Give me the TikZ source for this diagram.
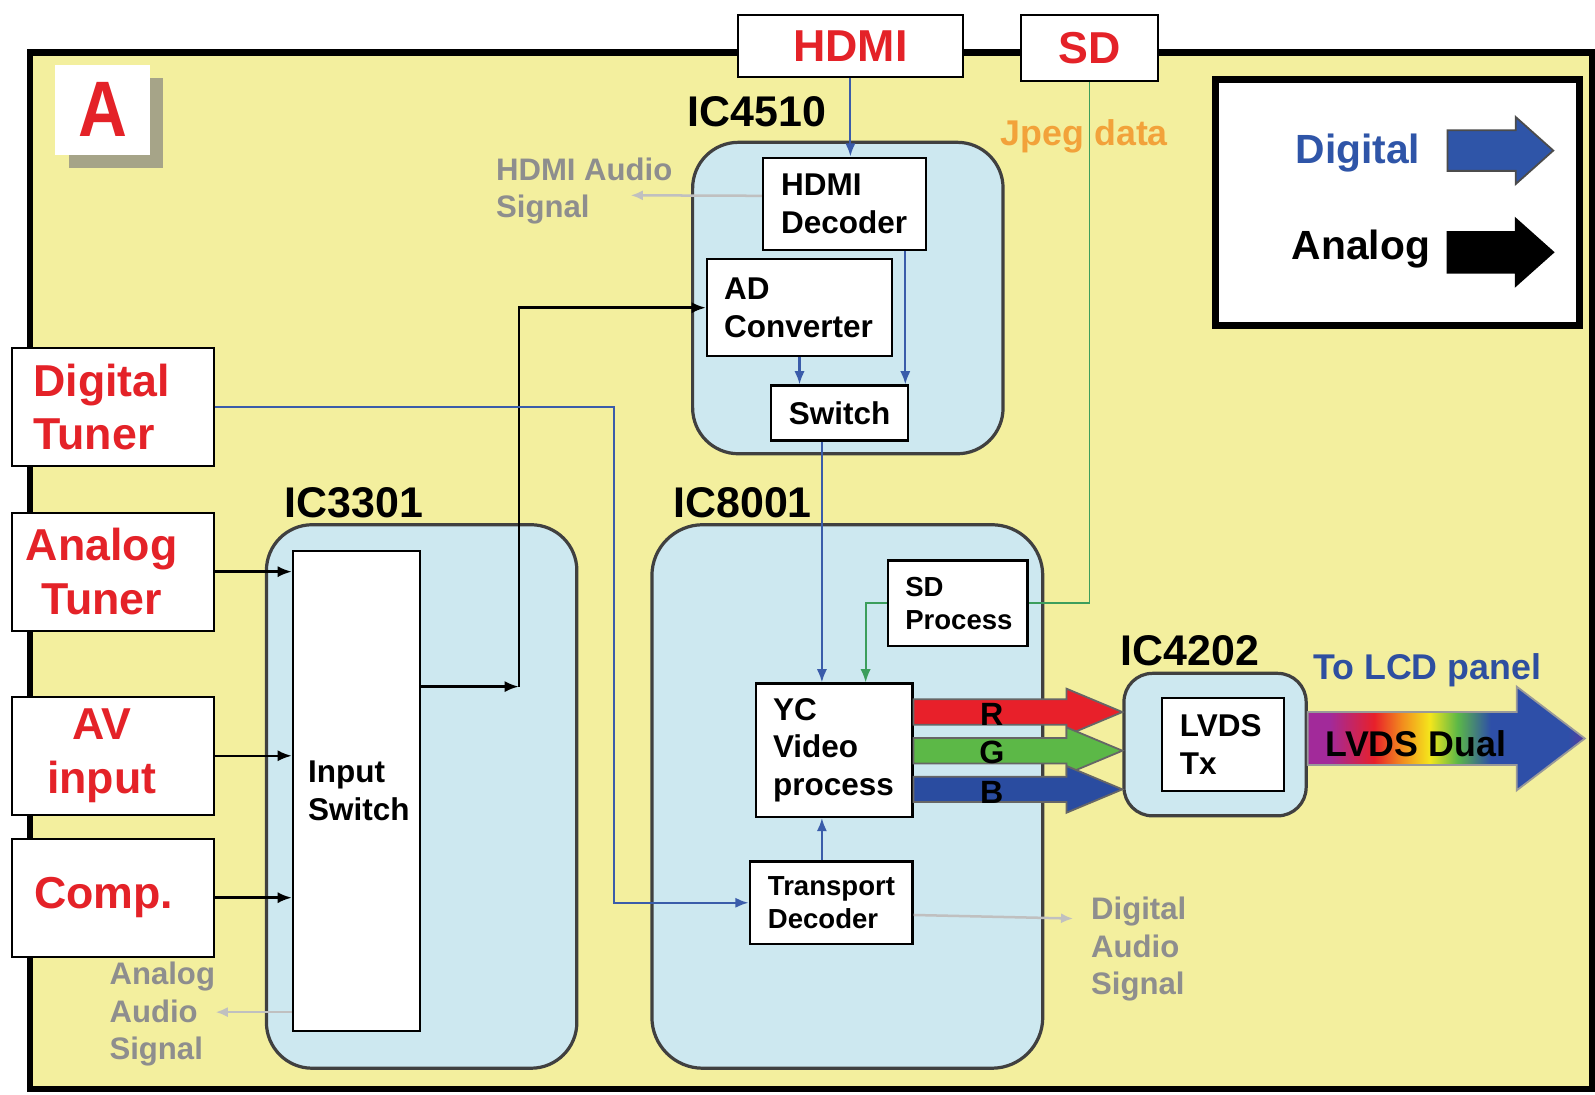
\documentclass[tikz,border=0pt]{standalone}
\usepackage{fontspec}
\setmainfont{Liberation Sans}
\usepackage{tikz}
\usetikzlibrary{arrows.meta,positioning,calc,shadows}
\definecolor{boardyellow}{HTML}{F3EF9E}
\definecolor{chipblue}{HTML}{CDE8F0}
\definecolor{inred}{HTML}{E42228}
\definecolor{digblue}{HTML}{3A5CAA}
\definecolor{legendblue}{HTML}{2F55A8}
\definecolor{lcdblue}{HTML}{2E4FA0}
\definecolor{jpegorange}{HTML}{F2A23A}
\definecolor{jpeggreen}{HTML}{3C9E5C}
\definecolor{audiogray}{HTML}{8E8E8E}
\definecolor{audioline}{HTML}{C0C0C0}
\definecolor{shadowgray}{HTML}{A6A488}
\definecolor{rgbred}{HTML}{E8202A}
\definecolor{rgbgreen}{HTML}{5CB847}
\definecolor{rgbblue}{HTML}{2A4CA0}
\definecolor{lvdsmag}{HTML}{A22A9A}
\definecolor{lvdsorange}{HTML}{F28C1E}
\definecolor{lvdsyellow}{HTML}{F4E61C}
\definecolor{lvdsblue}{HTML}{2E4FA8}
\definecolor{lvdsviolet}{HTML}{5A3C9E}
\pgfdeclarehorizontalshading{lvdsrainbow}{100bp}{color(0bp)=(lvdsmag); color(25bp)=(lvdsmag); color(29bp)=(lvdsmag); color(37bp)=(rgbred); color(42bp)=(lvdsorange); color(47bp)=(lvdsyellow); color(52bp)=(rgbgreen); color(58bp)=(lvdsblue); color(72bp)=(lvdsblue); color(75bp)=(lvdsviolet); color(100bp)=(lvdsviolet)}
% fat arrow: style, start, tip, half shaft, half head, head length
\newcommand{\fatarrow}[6]{%
  \draw[#1] ($(#2)+(0,-#4)$) -- ($(#3)+(-#6,-#4)$) -- ($(#3)+(-#6,-#5)$) -- (#3)
    -- ($(#3)+(-#6,#5)$) -- ($(#3)+(-#6,#4)$) -- ($(#2)+(0,#4)$) -- cycle;}

\begin{document}
\begin{tikzpicture}[x=0.01cm, y=-0.01cm,
        tunerbox/.style={draw, fill=white, line width=0.6pt, minimum width=1.98cm, minimum height=1.16cm, inner sep=0pt, align=center, text=inred, font=\fontsize{12.5}{15}\selectfont\bfseries},
        portbox/.style={draw, fill=white, line width=0.6pt, inner sep=0pt, text=inred, font=\fontsize{12.5}{15}\selectfont\bfseries},
        chipbox/.style={draw=black!75, fill=chipblue, line width=0.9pt, inner sep=0pt},
        chiplabel/.style={font=\fontsize{12}{14}\selectfont\bfseries},
        blockbox/.style={draw, fill=white, line width=0.6pt, inner sep=0pt, align=left, font=\fontsize{8.8}{10.6}\selectfont\bfseries},
        smallblock/.style={blockbox, font=\fontsize{7.7}{9.2}\selectfont\bfseries},
        audiotext/.style={anchor=west, inner sep=0pt, align=left, text=audiogray, font=\fontsize{8.7}{10.5}\selectfont\bfseries},
        rgblabel/.style={font=\fontsize{9}{10}\selectfont\bfseries},
        anaarrow/.style={-{Latex[length=1.4mm, width=1.1mm]}, line width=0.7pt},
        digarrow/.style={-{Latex[length=1.3mm, width=1mm]}, line width=0.6pt, digblue},
        jpegline/.style={line width=0.5pt, jpeggreen},
        audioarrow/.style={-{Latex[length=1.2mm, width=1mm]}, line width=0.7pt, audioline},
        fatshape/.style={draw=#1, line width=0.5pt},
    ]
    \useasboundingbox (0,0) rectangle (1568,1076);
    \fill[white] (0,0) rectangle (1568,1076);

    % === Board ===
    \node[draw, line width=1.8pt, fill=boardyellow, minimum width=15.35cm, minimum height=10.18cm, inner sep=0pt] (board) at (797.5,561) {};
    \node[fill=white, minimum width=0.93cm, minimum height=0.88cm, inner sep=0pt, copy shadow={shadow xshift=0.13cm, shadow yshift=-0.13cm, fill=shadowgray, draw=none}, text=inred, font=\fontsize{22}{22}\selectfont\bfseries] (abox) at (101,108) {\scalebox{0.86}[1]{A}};

    % === Inputs ===
    \node[portbox, minimum width=2.21cm, minimum height=0.61cm] (hdmi) at (836,45) {HDMI};
    \node[portbox, minimum width=1.34cm, minimum height=0.65cm] (sd) at (1071,47) {SD};
    \node[tunerbox, text width=1.56cm, align=left] (dtuner) at (111,400) {Digital\\Tuner};
    \node[tunerbox] (atuner) at (111,562) {\hspace*{-0.22cm}Analog\\\hspace*{-0.22cm}Tuner};
    \node[tunerbox] (avin) at (111,743) {\hspace*{-0.22cm}AV\\\hspace*{-0.22cm}input};
    \node[tunerbox] (comp) at (111,882.5) {\hspace*{-0.18cm}Comp.};

    % === Legend ===
    \node[draw, line width=2pt, fill=white, minimum width=3.58cm, minimum height=2.42cm, inner sep=0pt] (legend) at (1374,199) {};
    \node[font=\fontsize{11.4}{13}\selectfont\bfseries, text=legendblue] (lgdigital) at (1335,150) {Digital};
    \node[font=\fontsize{11.4}{13}\selectfont\bfseries] (lganalog) at (1338,245) {Analog};
    \fatarrow{fatshape=black!70, fill=legendblue}{1423,148}{1527,148}{20}{33}{37}
    \fatarrow{fatshape=black, fill=black}{1423,248}{1527,248}{20}{33}{37}

    % === Chips ===
    \node[chipbox, rounded corners=0.45cm, minimum width=3.05cm, minimum height=3.06cm] (ic4510) at (833.5,293) {};
    \node[chipbox, rounded corners=0.45cm, minimum width=3.05cm, minimum height=5.34cm] (ic3301) at (414.5,783) {};
    \node[chipbox, rounded corners=0.5cm, minimum width=3.84cm, minimum height=5.34cm] (ic8001) at (833,783) {};
    \node[chipbox, rounded corners=0.28cm, minimum width=1.79cm, minimum height=1.40cm] (ic4202) at (1194.5,732) {};
    \node[chiplabel] (lbl4510) at (744,110) {IC4510};
    \node[chiplabel] (lbl3301) at (348,494) {IC3301};
    \node[chiplabel] (lbl8001) at (730,494) {IC8001};
    \node[chiplabel] (lbl4202) at (1170,640) {IC4202};

    % === Blocks ===
    \node[blockbox, minimum width=1.6cm, minimum height=0.91cm, text width=1.24cm] (hdmidec) at (830,200.5) {HDMI\\Decoder};
    \node[blockbox, minimum width=1.82cm, minimum height=0.95cm, text width=1.48cm] (adc) at (786,302.5) {AD\\Converter};
    \node[blockbox, align=center, minimum width=1.35cm, minimum height=0.54cm] (sw) at (825.5,406) {Switch};
    \node[blockbox, minimum width=1.25cm, minimum height=4.71cm, text width=0.95cm] (insw) at (350.5,777.5) {Input\\Switch};
    \node[smallblock, minimum width=1.37cm, minimum height=0.84cm, text width=1.03cm] (sdproc) at (941.5,593) {SD\\Process};
    \node[blockbox, minimum width=1.54cm, minimum height=1.31cm, text width=1.2cm] (yc) at (820,737.5) {YC\\Video\\process};
    \node[smallblock, minimum width=1.6cm, minimum height=0.81cm, text width=1.24cm] (tdec) at (817,887.5) {Transport\\Decoder};
    \node[blockbox, minimum width=1.2cm, minimum height=0.92cm, text width=0.84cm] (lvdstx) at (1202,732) {LVDS\\Tx};

    % === Side texts ===
    \node[text=jpegorange, font=\fontsize{10}{12}\selectfont\bfseries] (jpeg) at (1066,134) {Jpeg data};
    \node[text=lcdblue, font=\fontsize{10}{12}\selectfont\bfseries] (tolcd) at (1403,659) {To LCD panel};
    \node[audiotext] (hdaudtxt) at (487,188) {HDMI Audio\\Signal};
    \node[audiotext] (anaudtxt) at (107,997) {Analog\\Audio\\Signal};
    \node[audiotext] (digaudtxt) at (1072,933) {Digital\\Audio\\Signal};

    % === Analog paths ===
    \coordinate (jn) at (510,675);
    \draw[anaarrow] (atuner.east) -- (atuner.east -| insw.west);
    \draw[anaarrow] (avin.east) -- (avin.east -| insw.west);
    \draw[anaarrow] (comp.east) -- (comp.east -| insw.west);
    \draw[anaarrow] (insw.east |- jn) -- (jn);
    \draw[anaarrow] (jn) |- (adc.west);

    % === Digital paths ===
    \coordinate (tbend) at (604,650);
    \draw[digarrow] (dtuner.east) -| (tbend) |- (tdec.west);
    \draw[digarrow] (hdmi.south) -- (hdmi.south |- hdmidec.north);
    \draw[digarrow] ($(hdmidec.south)+(60,0)$) -- ($(sw.north)+(64.5,0)$);
    \draw[digarrow] (adc.south) -- (adc.south |- sw.north);
    \draw[digarrow] ($(sw.south)+(-17.5,0)$) -- ($(yc.north)+(-12,0)$);
    \draw[digarrow] ($(tdec.north)+(-9,0)$) -- ($(yc.south)+(-12,0)$);

    % Jpeg from SD card
    \draw[jpegline] (sd.south) |- (sdproc.east);
    \draw[jpegline, -{Latex[length=1.3mm, width=1mm]}] (sdproc.west) -| ($(yc.north)+(31,0)$);

    % Audio outputs
    \coordinate (hdaud) at (620,192);
    \coordinate (anaud) at (212,995);
    \coordinate (digaud) at (1055,903);
    \draw[audioarrow] ($(hdmidec.west)+(0,-8)$) -- (hdaud);
    \draw[audioarrow] (insw.west |- anaud) -- (anaud);
    \draw[audioarrow] ($(tdec.east)+(0,12)$) -- (digaud);

    % === RGB and LVDS ===
    \fatarrow{fatshape=black!60, fill=rgbred}{yc.east |- 0,700}{ic4202.west |- 0,700}{12.5}{23}{55}
    \fatarrow{fatshape=black!60, fill=rgbgreen}{yc.east |- 0,738}{ic4202.west |- 0,738}{12.5}{23}{55}
    \fatarrow{fatshape=black!60, fill=rgbblue}{yc.east |- 0,776}{ic4202.west |- 0,776}{12.5}{23}{55}
    \node[rgblabel] (rlbl) at (975,702) {R};
    \node[rgblabel] (glbl) at (975,740) {G};
    \node[rgblabel] (blbl) at (975,779) {B};
    \coordinate (lcdtip) at (1558,726);
    \fatarrow{fatshape=black!40, shade, shading=lvdsrainbow}{ic4202.east |- 0,726}{lcdtip}{26}{51}{67}
    \node[font=\fontsize{10}{12}\selectfont\bfseries] (lvdsdual) at (1392,731) {LVDS Dual};

\end{tikzpicture}
\end{document}
